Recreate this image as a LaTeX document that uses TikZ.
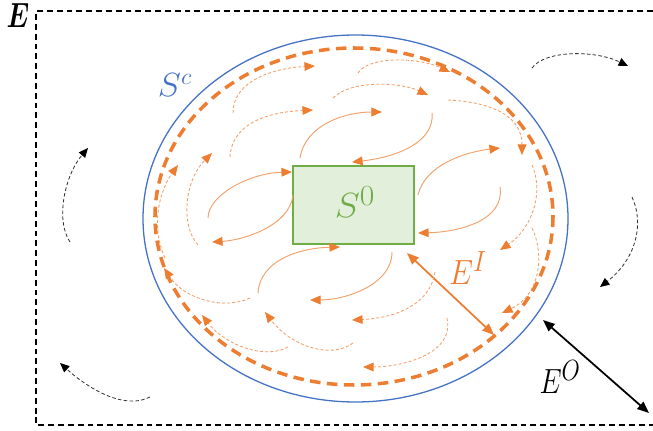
\documentclass[tikz,border=0pt]{standalone}
\usepackage{bm}
\usepackage{graphicx}
\usetikzlibrary{arrows.meta}
\definecolor{orng}{HTML}{ED7D31}
\definecolor{orngl}{HTML}{F2A06A}
\definecolor{blu}{HTML}{4472C4}
\definecolor{grnf}{HTML}{E2EFDA}
\definecolor{grnd}{HTML}{70AD47}
\definecolor{drk}{HTML}{333333}
\newcommand{\lbltxt}[4]{\scalebox{#1}[#2]{\fontsize{#3}{#3}\selectfont$#4$}}
\tikzset{
  otip/.style={-{Triangle[length=9pt,width=7.5pt,color=orng]}},
  od/.style={draw=orngl, line width=0.75pt, dash pattern=on 2.6pt off 1.8pt, otip},
  os/.style={draw=orngl, line width=0.8pt, otip},
  bd/.style={draw=drk, line width=0.7pt, dash pattern=on 3pt off 2pt, -{Triangle[length=8pt,width=7pt,color=black]}},
  lbl/.style={inner sep=0pt}
}
\begin{document}
\begin{tikzpicture}[x=0.03cm,y=-0.03cm]
\useasboundingbox (0,0) rectangle (653,431);
% environment frame
\draw[black, line width=0.9pt, dash pattern=on 5pt off 3.4pt] (653,11) -- (36,11) -- (36,425) -- (653,425);
\node[lbl] (E) at (18,16) {\lbltxt{0.9}{1.2}{25}{\bm{E}}};
% system ellipse
\draw[blu, line width=1.1pt] (355.5,218.5) ellipse [x radius=212.5, y radius=183.5];
\draw[orng, line width=3pt, dash pattern=on 9pt off 5.5pt] (354,216.5) ellipse [x radius=199, y radius=168.5];
% core box
\node[draw=grnd, fill=grnf, line width=1pt, minimum width=121*0.03cm, minimum height=78*0.03cm, inner sep=0pt] (core) at (353.5,205) {};
\node[lbl, text=grnd] (S0) at (355,202) {\lbltxt{1.3}{1.2}{28}{S^0}};
\node[lbl, text=blu] (Sc) at (175,85) {\lbltxt{1.2}{1.15}{26}{S^c}};
\node[lbl, text=orng] (EI) at (468,268) {\lbltxt{1.05}{1.2}{28}{E^I}};
\node[lbl, text=black] (EO) at (560,377) {\lbltxt{0.97}{1.2}{28}{E^O}};
% distance arrows
\coordinate (a1) at (407,253); \coordinate (a2) at (494,335);
\draw[orng, line width=1.5pt, {Triangle[length=10pt,width=8pt]}-{Triangle[length=10pt,width=8pt]}] (a1) -- (a2);
\coordinate (b1) at (543,320); \coordinate (b2) at (649,413);
\draw[black, line width=1.5pt, {Triangle[length=10pt,width=8pt]}-{Triangle[length=10pt,width=8pt]}] (b1) -- (b2);
% internal flows
\draw[od] (233,113) .. controls (233,80) and (275,68) .. (315,66);
\draw[od] (230,157) .. controls (232,122) and (270,112) .. (313,110);
\draw[os] (300,158) .. controls (305,125) and (345,112) .. (382,112);
\draw[od] (358,73) .. controls (370,55) and (420,58) .. (450,72);
\draw[od] (333,98) .. controls (350,80) and (400,82) .. (428,95);
\draw[os] (432,113) .. controls (435,145) and (390,158) .. (352,162);
\draw[od] (448,100) .. controls (490,102) and (522,115) .. (522,155);
\draw[os] (418,195) .. controls (425,165) and (465,152) .. (500,148);
\draw[od] (165,258) .. controls (150,225) and (160,190) .. (178,165);
\draw[od] (198,245) .. controls (180,225) and (185,180) .. (212,153);
\draw[os] (208,218) .. controls (208,195) and (250,173) .. (292,172);
\draw[os] (293,195) .. controls (290,225) and (245,240) .. (212,242);
\draw[os] (258,293) .. controls (260,260) and (300,248) .. (340,247);
\draw[os] (500,187) .. controls (505,220) and (460,232) .. (418,233);
\draw[od] (532,165) .. controls (545,195) and (530,230) .. (500,250);
\draw[od] (532,228) .. controls (545,255) and (540,295) .. (502,313);
\draw[os] (392,252) .. controls (392,285) and (345,300) .. (310,300);
\draw[od] (250,298) .. controls (225,310) and (185,300) .. (164,268);
\draw[od] (435,272) .. controls (430,305) and (395,318) .. (352,320);
\draw[od] (353,343) .. controls (330,360) and (290,345) .. (265,312);
\draw[od] (288,347) .. controls (265,360) and (225,345) .. (202,315);
\draw[od] (447,318) .. controls (455,355) and (400,367) .. (363,367);
% external flows
\draw[bd] (532,68) .. controls (545,50) and (595,50) .. (628,66);
\draw[bd] (70,242) .. controls (55,220) and (65,175) .. (88,148);
\draw[bd] (150,397) .. controls (125,410) and (90,390) .. (60,363);
\draw[bd] (632,197) .. controls (645,225) and (635,260) .. (600,287);
\end{tikzpicture}
\end{document}
